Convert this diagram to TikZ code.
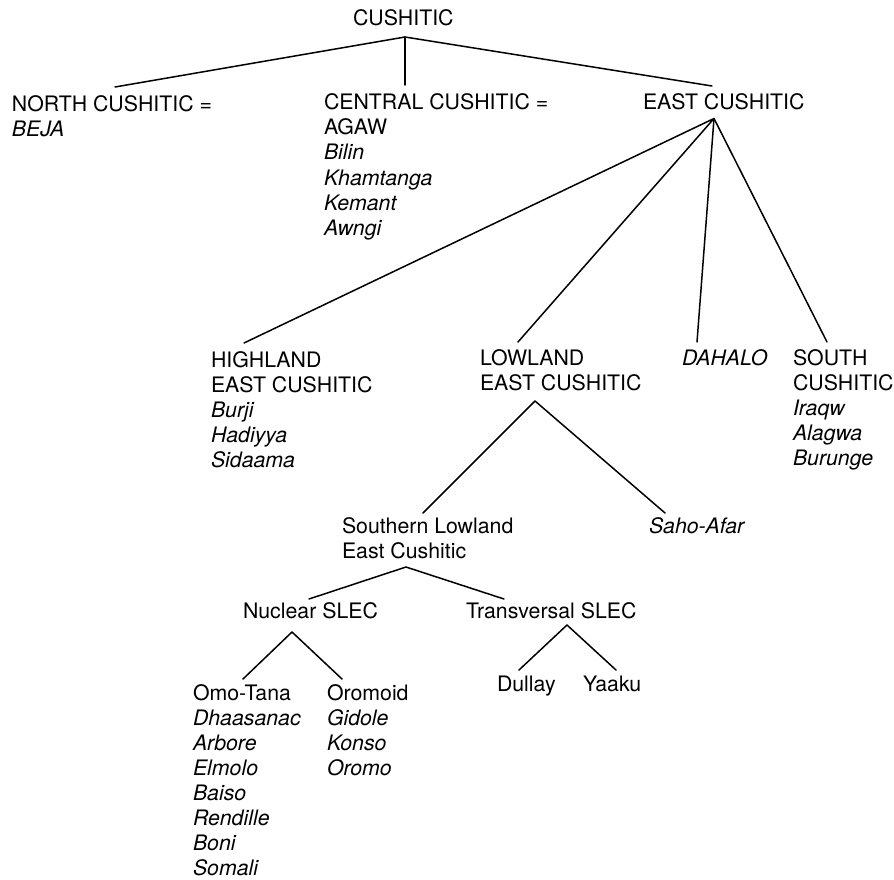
\documentclass[tikz,border=0pt]{standalone}
\usepackage{fontspec}
\setmainfont{TeX Gyre Heros}
\newcommand\lblfont{\fontsize{21.3}{25}\selectfont}
\begin{document}
\begin{tikzpicture}[x=1pt,y=-1pt,
  hd/.style={inner sep=0pt, outer sep=0pt, anchor=base west, font=\lblfont},
  lang/.style={hd, font=\lblfont\itshape},
  branch/.style={line width=1.5pt, line cap=round, line join=round}]
\useasboundingbox (0,0) rectangle (894,880);
% top
\node[hd] (cush) at (353,26) {CUSHITIC};
\node[hd] (north) at (12,112) {NORTH CUSHITIC =};
\node[lang] (beja) at (12,137) {BEJA};
\node[hd] (central) at (324,110) {CENTRAL CUSHITIC =};
\node[hd] (agaw) at (324,135) {AGAW};
\node[lang] (bilin) at (324,160) {Bilin};
\node[lang] (khamtanga) at (324,185) {Khamtanga};
\node[lang] (kemant) at (324,210) {Kemant};
\node[lang] (awngi) at (324,235) {Awngi};
\node[hd] (east) at (643,110) {EAST CUSHITIC};
% second level
\node[hd] (highland) at (211,367) {HIGHLAND};
\node[hd] (highEC) at (211,392) {EAST CUSHITIC};
\node[lang] (burji) at (211,417) {Burji};
\node[lang] (hadiyya) at (211,442) {Hadiyya};
\node[lang] (sidaama) at (211,467) {Sidaama};
\node[hd] (lowland) at (480,365) {LOWLAND};
\node[hd] (lowEC) at (480,390) {EAST CUSHITIC};
\node[lang] (dahalo) at (682,365) {DAHALO};
\node[hd] (south) at (793,365) {SOUTH};
\node[hd] (southC) at (793,390) {CUSHITIC};
\node[lang] (iraqw) at (793,415) {Iraqw};
\node[lang] (alagwa) at (793,440) {Alagwa};
\node[lang] (burunge) at (793,465) {Burunge};
% third level
\node[hd] (sle) at (342,533) {Southern Lowland};
\node[hd] (sleEC) at (342,558) {East Cushitic};
\node[lang] (saho) at (649,533) {Saho-Afar};
\node[hd] (nuclear) at (243,618) {Nuclear SLEC};
\node[hd] (trans) at (466,618) {Transversal SLEC};
\node[hd] (omo) at (193,700) {Omo-Tana};
\node[lang] (dhaasanac) at (193,725) {Dhaasanac};
\node[lang] (arbore) at (193,750) {Arbore};
\node[lang] (elmolo) at (193,775) {Elmolo};
\node[lang] (baiso) at (193,800) {Baiso};
\node[lang] (rendille) at (193,825) {Rendille};
\node[lang] (boni) at (193,850) {Boni};
\node[lang] (somali) at (193,875) {Somali};
\node[hd] (oromoid) at (327,700) {Oromoid};
\node[lang] (gidole) at (327,725) {Gidole};
\node[lang] (konso) at (327,750) {Konso};
\node[lang] (oromo) at (327,775) {Oromo};
\node[hd] (dullay) at (497,691) {Dullay};
\node[hd] (yaaku) at (583,691) {Yaaku};
% connectors
\draw[branch] ([shift={(103,-25)}]north.base west) -- ([shift={(52,11)}]cush.base west) -- ([shift={(69,-24)}]east.base west);
\draw[branch] ([shift={(52,11)}]cush.base west) -- ([shift={(81,-25)}]central.base west);
\draw[branch] ([shift={(33,-24)}]highland.base west) -- ([shift={(71,8.5)}]east.base west) -- ([shift={(38,-23)}]lowland.base west);
\draw[branch] ([shift={(71,8.5)}]east.base west) -- ([shift={(15,-23)}]dahalo.base west);
\draw[branch] ([shift={(71,8.5)}]east.base west) -- ([shift={(34,-23)}]south.base west);
\draw[branch] ([shift={(81,-20)}]sle.base west) -- ([shift={(55,11)}]lowEC.base west) -- ([shift={(16,-20)}]saho.base west);
\draw[branch] ([shift={(66,-19)}]nuclear.base west) -- ([shift={(64,9)}]sleEC.base west) -- ([shift={(38,-19)}]trans.base west);
\draw[branch] ([shift={(50,-21)}]omo.base west) -- ([shift={(49,14)}]nuclear.base west) -- ([shift={(15,-21)}]oromoid.base west);
\draw[branch] ([shift={(22,-21)}]dullay.base west) -- ([shift={(101,7)}]trans.base west) -- ([shift={(33,-21)}]yaaku.base west);
\end{tikzpicture}
\end{document}
